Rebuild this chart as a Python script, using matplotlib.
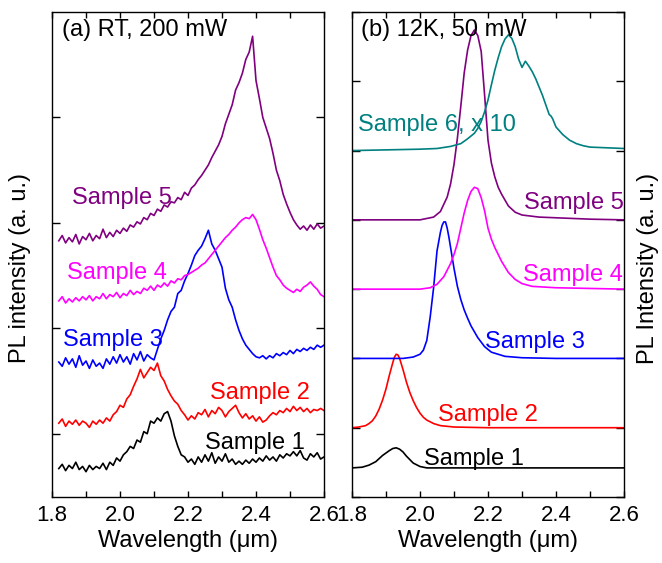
import numpy as np
import matplotlib
matplotlib.use('Agg')
from matplotlib import pyplot as plt
from matplotlib.ticker import MultipleLocator

plt.rcParams['font.family'] = ['Liberation Sans', 'DejaVu Sans']
plt.rcParams['font.size'] = 17

# ---- (a) RT, 200 mW : noisy spectra on a 0.01 um grid (1.82 .. 2.60)
wl_rt = np.round(np.arange(1.82, 2.6001, 0.01), 2)

rt_s1 = [-0.33, -0.29, -0.35, -0.30, -0.33, -0.27, -0.34, -0.31, -0.36, -0.30,
         -0.34, -0.31, -0.33, -0.28, -0.34, -0.27, -0.30, -0.23, -0.26, -0.20,
         -0.17, -0.12, -0.14, -0.06, -0.08, 0.02, 0.00, 0.12, 0.10, 0.15,
         0.12, 0.19, 0.21, 0.12, -0.02, -0.12, -0.20, -0.22, -0.27, -0.24,
         -0.29, -0.22, -0.27, -0.20, -0.26, -0.18, -0.28, -0.22, -0.26, -0.19,
         -0.27, -0.24, -0.29, -0.26, -0.29, -0.25, -0.28, -0.24, -0.27, -0.23,
         -0.26, -0.21, -0.25, -0.22, -0.26, -0.20, -0.23, -0.19, -0.21, -0.17,
         -0.21, -0.16, -0.23, -0.25, -0.19, -0.22, -0.18, -0.24, -0.22]
rt_s2 = [0.10, 0.14, 0.07, 0.12, 0.09, 0.13, 0.08, 0.12, 0.10, 0.06,
         0.12, 0.09, 0.13, 0.10, 0.15, 0.12, 0.18, 0.21, 0.27, 0.25,
         0.33, 0.37, 0.45, 0.52, 0.61, 0.53, 0.58, 0.63, 0.60, 0.67,
         0.55, 0.50, 0.42, 0.36, 0.31, 0.28, 0.22, 0.18, 0.13, 0.17,
         0.14, 0.20, 0.18, 0.23, 0.16, 0.22, 0.19, 0.25, 0.22, 0.16,
         0.21, 0.24, 0.27, 0.20, 0.15, 0.19, 0.14, 0.17, 0.12, 0.16,
         0.11, 0.13, 0.17, 0.20, 0.18, 0.22, 0.20, 0.24, 0.21, 0.26,
         0.22, 0.25, 0.21, 0.24, 0.20, 0.23, 0.22, 0.24, 0.22]
rt_s3 = [0.68, 0.64, 0.72, 0.66, 0.71, 0.63, 0.74, 0.65, 0.69, 0.62,
         0.70, 0.64, 0.67, 0.62, 0.71, 0.66, 0.73, 0.67, 0.75, 0.68,
         0.73, 0.66, 0.76, 0.70, 0.78, 0.69, 0.75, 0.72, 0.70, 0.80,
         0.90, 0.98, 1.08, 1.16, 1.20, 1.33, 1.36, 1.45, 1.52, 1.60,
         1.69, 1.74, 1.78, 1.85, 1.93, 1.80, 1.74, 1.66, 1.58, 1.38,
         1.27, 1.20, 1.08, 0.98, 0.90, 0.84, 0.80, 0.76, 0.73, 0.72,
         0.74, 0.71, 0.74, 0.72, 0.76, 0.74, 0.77, 0.75, 0.79, 0.76,
         0.80, 0.78, 0.81, 0.79, 0.82, 0.80, 0.84, 0.82, 0.84]
rt_s4 = [1.26, 1.30, 1.24, 1.28, 1.25, 1.29, 1.26, 1.30, 1.27, 1.31,
         1.26, 1.30, 1.28, 1.33, 1.28, 1.32, 1.30, 1.34, 1.29, 1.33,
         1.31, 1.36, 1.32, 1.35, 1.33, 1.38, 1.36, 1.40, 1.36, 1.41,
         1.39, 1.43, 1.40, 1.45, 1.43, 1.47, 1.46, 1.50, 1.51, 1.53,
         1.55, 1.57, 1.60, 1.62, 1.66, 1.70, 1.74, 1.78, 1.82, 1.86,
         1.89, 1.93, 1.96, 2.00, 2.03, 2.05, 2.04, 2.08, 2.03, 1.94,
         1.84, 1.76, 1.67, 1.58, 1.50, 1.46, 1.41, 1.38, 1.36, 1.34,
         1.37, 1.35, 1.39, 1.41, 1.44, 1.40, 1.37, 1.32, 1.30]
rt_s5 = [1.83, 1.88, 1.81, 1.86, 1.82, 1.89, 1.80, 1.87, 1.84, 1.90,
         1.83, 1.88, 1.85, 1.94, 1.86, 1.91, 1.87, 1.93, 1.90, 1.95,
         1.92, 1.98, 1.96, 2.01, 1.99, 2.05, 2.03, 2.09, 2.07, 2.13,
         2.11, 2.17, 2.15, 2.20, 2.19, 2.24, 2.22, 2.29, 2.26, 2.33,
         2.36, 2.41, 2.45, 2.50, 2.55, 2.62, 2.68, 2.74, 2.82, 2.94,
         3.03, 3.12, 3.26, 3.33, 3.42, 3.55, 3.62, 3.77, 3.35, 3.18,
         3.00, 2.90, 2.80, 2.66, 2.50, 2.40, 2.27, 2.18, 2.10, 2.03,
         1.98, 1.94, 1.97, 1.93, 1.98, 1.94, 1.99, 1.95, 1.97]

# ---- (b) 12K, 50 mW : smooth spectra
lt_x1 = [1.80, 1.83, 1.85, 1.87, 1.89, 1.91, 1.92, 1.93, 1.94, 1.95, 1.96, 1.97, 1.98, 2.00, 2.02, 2.05, 2.20, 2.40, 2.60]
lt_s1 = [0.42, 0.43, 0.46, 0.51, 0.60, 0.67, 0.70, 0.71, 0.69, 0.65, 0.59, 0.54, 0.49, 0.44, 0.42, 0.42, 0.42, 0.42, 0.42]

lt_x2 = [1.80, 1.82, 1.84, 1.85, 1.86, 1.87, 1.88, 1.89, 1.90, 1.91, 1.92, 1.925, 1.93, 1.935, 1.94,
         1.95, 1.96, 1.97, 1.98, 1.99, 2.00, 2.01, 2.02, 2.04, 2.06, 2.10, 2.20, 2.40, 2.60]
lt_s2 = [1.00, 1.01, 1.03, 1.06, 1.10, 1.17, 1.27, 1.40, 1.56, 1.76, 1.94, 2.02, 2.06, 2.05, 2.00,
         1.84, 1.66, 1.51, 1.39, 1.29, 1.21, 1.15, 1.11, 1.06, 1.03, 1.01, 1.00, 1.00, 1.00]

lt_x3 = [1.80, 1.85, 1.90, 1.95, 1.98, 2.00, 2.01, 2.02, 2.03, 2.04, 2.05, 2.06, 2.065, 2.07, 2.075, 2.08,
         2.085, 2.09, 2.10, 2.11, 2.12, 2.13, 2.14, 2.15, 2.17, 2.19, 2.21, 2.25, 2.30, 2.40, 2.50, 2.60]
lt_s3 = [2.00, 2.00, 2.00, 2.00, 2.02, 2.06, 2.12, 2.26, 2.60, 3.02, 3.55, 3.82, 3.92, 3.97, 3.97, 3.88,
         3.75, 3.60, 3.30, 3.04, 2.85, 2.70, 2.58, 2.47, 2.30, 2.17, 2.09, 2.03, 2.01, 2.00, 2.00, 2.00]

lt_x4 = [1.80, 1.90, 2.00, 2.03, 2.05, 2.07, 2.09, 2.10, 2.11, 2.12, 2.13, 2.14, 2.15, 2.16, 2.17, 2.18,
         2.19, 2.20, 2.21, 2.22, 2.24, 2.26, 2.28, 2.30, 2.33, 2.40, 2.50, 2.60]
lt_s4 = [3.00, 3.00, 3.00, 3.02, 3.07, 3.18, 3.37, 3.50, 3.66, 3.88, 4.10, 4.28, 4.41, 4.47, 4.45, 4.32,
         4.13, 3.88, 3.72, 3.60, 3.40, 3.24, 3.14, 3.08, 3.04, 3.02, 3.01, 3.00]

lt_x5 = [1.80, 1.90, 2.00, 2.04, 2.06, 2.08, 2.09, 2.10, 2.11, 2.12, 2.13, 2.14, 2.15, 2.16, 2.17, 2.18,
         2.19, 2.20, 2.21, 2.22, 2.23, 2.24, 2.26, 2.28, 2.30, 2.35, 2.40, 2.50, 2.60]
lt_s5 = [4.00, 4.00, 4.00, 4.04, 4.12, 4.33, 4.52, 4.80, 5.18, 5.64, 6.12, 6.45, 6.66, 6.74, 6.66, 6.43,
         5.80, 5.15, 4.82, 4.62, 4.47, 4.37, 4.20, 4.11, 4.07, 4.04, 4.03, 4.01, 4.00]

lt_x6 = [1.80, 1.90, 2.00, 2.05, 2.09, 2.12, 2.14, 2.16, 2.17, 2.18, 2.19, 2.20, 2.21, 2.22, 2.23, 2.24,
         2.25, 2.26, 2.27, 2.28, 2.29, 2.30, 2.31, 2.32, 2.33, 2.34, 2.35, 2.36, 2.37, 2.38, 2.385, 2.39,
         2.40, 2.42, 2.44, 2.46, 2.48, 2.50, 2.55, 2.60]
lt_s6 = [5.00, 5.01, 5.02, 5.03, 5.06, 5.10, 5.17, 5.25, 5.32, 5.42, 5.56, 5.73, 5.95, 6.16, 6.34, 6.50,
         6.61, 6.67, 6.62, 6.50, 6.32, 6.20, 6.29, 6.22, 6.14, 6.04, 5.92, 5.80, 5.66, 5.52, 5.50, 5.46,
         5.34, 5.23, 5.15, 5.10, 5.07, 5.05, 5.04, 5.03]

c_purple = '#800080'
c_magenta = '#ff00ff'
c_blue = '#0000ff'
c_red = '#ff0000'
c_black = '#000000'
c_teal = '#008080'

fig = plt.figure(figsize=(6.62, 5.63), dpi=100)
axa = fig.add_axes([52/662, 66/563, 272/662, 485/563])
axb = fig.add_axes([352/662, 66/563, 272/662, 485/563])

lw = 1.2
axa.plot(wl_rt, rt_s1, color=c_black, lw=lw)
axa.plot(wl_rt, rt_s2, color=c_red, lw=lw)
axa.plot(wl_rt, rt_s3, color=c_blue, lw=lw)
axa.plot(wl_rt, rt_s4, color=c_magenta, lw=lw)
axa.plot(wl_rt, rt_s5, color=c_purple, lw=lw)

axb.plot(lt_x1, lt_s1, color=c_black, lw=lw)
axb.plot(lt_x2, lt_s2, color=c_red, lw=lw)
axb.plot(lt_x3, lt_s3, color=c_blue, lw=lw)
axb.plot(lt_x4, lt_s4, color=c_magenta, lw=lw)
axb.plot(lt_x5, lt_s5, color=c_purple, lw=lw)
axb.plot(lt_x6, lt_s6, color=c_teal, lw=lw)

# labels next to curves
axa.text(1.859, 2.24, 'Sample 5', color=c_purple, va='center')
axa.text(1.844, 1.52, 'Sample 4', color=c_magenta, va='center')
axa.text(1.833, 0.89, 'Sample 3', color=c_blue, va='center')
axa.text(2.265, 0.39, 'Sample 2', color=c_red, va='center')
axa.text(2.250, -0.09, 'Sample 1', color=c_black, va='center')
axa.text(0.037, 0.963, '(a) RT, 200 mW', transform=axa.transAxes, va='center')

axb.text(1.818, 5.37, 'Sample 6, x 10', color=c_teal, va='center')
axb.text(2.305, 4.24, 'Sample 5', color=c_purple, va='center')
axb.text(2.304, 3.20, 'Sample 4', color=c_magenta, va='center')
axb.text(2.190, 2.24, 'Sample 3', color=c_blue, va='center')
axb.text(2.053, 1.18, 'Sample 2', color=c_red, va='center')
axb.text(2.012, 0.55, 'Sample 1', color=c_black, va='center')
axb.text(0.033, 0.963, '(b) 12K, 50 mW', transform=axb.transAxes, va='center')

for ax in (axa, axb):
    ax.set_xlim(1.8, 2.6)
    ax.xaxis.set_major_locator(MultipleLocator(0.2))
    ax.xaxis.set_minor_locator(MultipleLocator(0.1))
    ax.tick_params(which='both', direction='in', top=True, right=True, width=1.0)
    ax.tick_params(axis='x', which='major', length=4, pad=6, labelsize=16)
    ax.tick_params(axis='x', which='minor', length=4)
    ax.tick_params(axis='y', which='major', length=5.5)
    ax.set_xlabel('Wavelength (μm)', fontsize=17, labelpad=3)
    for s in ax.spines.values():
        s.set_linewidth(1.0)

axa.set_ylim(-0.6, 4.0)
axa.set_yticks([0, 1, 2, 3])
axa.set_yticklabels([])
axb.set_ylim(0, 7)
axb.set_yticks([0, 1, 2, 3, 4, 5, 6, 7])
axb.set_yticklabels([])

fig.text(20/662, 1 - 268/563, 'PL intensity (a. u.)', rotation=90, va='center', ha='center', fontsize=17)
fig.text(648/662, 1 - 268/563, 'PL Intensity (a. u.)', rotation=90, va='center', ha='center', fontsize=17)

fig.savefig('out.png', dpi=100)
